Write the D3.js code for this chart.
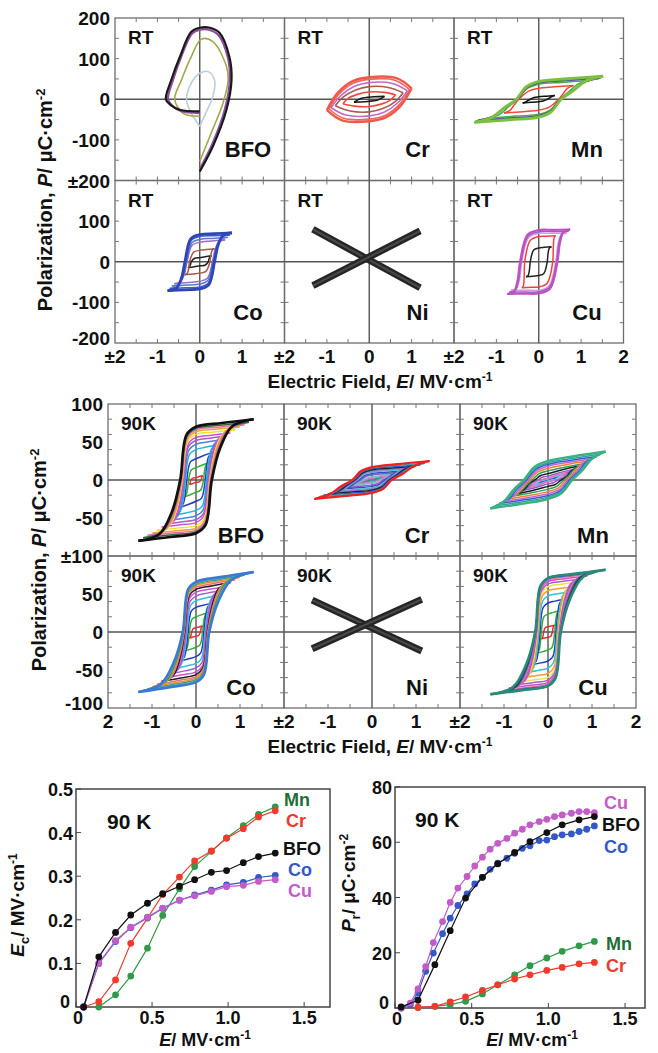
<!DOCTYPE html>
<html><head><meta charset="utf-8">
<script src="https://cdn.jsdelivr.net/npm/d3@7"></script>
<style>
body{margin:0;background:#fff}
svg{display:block}
text{font-family:"Liberation Sans",Arial,Helvetica,sans-serif;font-weight:bold;fill:#111}
</style></head><body>
<svg id="chart" width="658" height="1053"></svg>
<script>
// ================= DATA =================
const panelNames = ["BFO","Cr","Mn","Co","Ni","Cu"];
// x tick labels under each grid (E values, column index)
const xLabelE   = [-2,-1,0,1,-2,-1,0,1,-2,-1,0,1,2];
const xLabelCol = [0,0,0,0,1,1,1,1,2,2,2,2,2];
const topXText  = ["±2","-1","0","1","±2","-1","0","1","±2","-1","0","1","2"];
const midXText  = ["2","-1","0","1","±2","-1","0","1","±2","-1","0","1","2"];
// y tick labels
const topYRow0V = [200,100,0,-100,-200], topYRow0T = ["200","100","0","-100","±200"];
const topYRow1V = [100,0,-100,-200],     topYRow1T = ["100","0","-100","-200"];
const midYRow0V = [100,50,0,-50,-100],   midYRow0T = ["100","50","0","-50","±100"];
const midYRow1V = [50,0,-50,-100],       midYRow1T = ["50","0","-50","-100"];

// ---- RT loops ----
// BFO RT: open traces (E, P)
const rtBFO = [
  [[0,-67],[-0.24,-26],[-0.31,0],[-0.2,40],[0,64],[0.2,68],[0.35,46],[0.31,7],[0.16,-30],[0,-67]],
  [[0,-42],[-0.4,-34],[-0.59,0],[-0.43,48],[-0.2,105],[0.04,148],[0.31,142],[0.63,81],[0.67,48],[0.55,-9],[0.27,-83],[0,-153]],
  [[0,-34],[-0.45,-29],[-0.66,-15],[-0.75,0],[-0.63,48],[-0.44,104],[-0.18,162],[0,171],[0.22,171],[0.44,158],[0.66,104],[0.71,48],[0.59,-26],[0.29,-112],[0,-172]],
  [[0,-30],[-0.47,-26],[-0.7,-13],[-0.8,0],[-0.67,48],[-0.47,104],[-0.2,166],[0,176],[0.24,176],[0.47,163],[0.7,104],[0.75,48],[0.63,-26],[0.31,-116],[0,-178]]
];
// Cr RT: upper branches (right tip -> left tip), lower branch is the point reflection
const rtCr = [
  [[0.36,7],[0.1,6],[-0.2,2],[-0.36,-7]],
  [[0.62,11],[0.35,17],[0,18],[-0.28,12],[-0.5,2],[-0.62,-11]],
  [[0.8,16],[0.45,29],[0,31],[-0.32,23],[-0.62,5],[-0.8,-16]],
  [[0.9,21],[0.55,39],[0,41],[-0.35,32],[-0.68,8],[-0.9,-21]],
  [[0.95,24],[0.6,47],[0,49],[-0.37,40],[-0.72,12],[-0.95,-24]],
  [[1.0,27],[0.64,52],[0,54],[-0.4,44],[-0.75,15],[-1.0,-27]]
];
// loops as [Emax, Pmax, Pr, Ec]
const rtMn = [[0.38,9,6,0.2],[0.82,34,27,0.47],[1.2,46,37,0.5],[1.42,51,40,0.5],[1.46,53,41,0.51],[1.49,55,42,0.52],[1.52,57,44,0.53]];
const rtCo = [[0.28,15,10,0.2],[0.35,32,28,0.24],[0.6,54,48,0.3],[0.66,60,55,0.31],[0.71,66,62,0.33],[0.76,71,67,0.35]];
const rtCu = [[0.3,37,34,0.2],[0.4,64,62,0.33],[0.66,70,70,0.4],[0.7,75,74,0.42],[0.74,79,78,0.44]];
const rtNi = [[[-1.33,80],[1.2,-64]],[[-1.33,-59],[1.2,76]]];

// ---- 90 K loops [Emax, Pmax, Pr, Ec] ----
const k90BFO = [[0.15,6,3,0.12],[0.26,22,16,0.17],[0.36,36,28,0.21],[0.47,46,40,0.24],[0.57,53,47,0.26],[0.68,58,52,0.28],[0.78,62,56,0.29],[0.89,66,60,0.31],[0.99,70,63.5,0.32],[1.10,73,66,0.33],[1.20,76,68,0.345],[1.31,80,70,0.36]];
const k90Cr  = [[0.15,2,0.2,0.012],[0.26,4,0.6,0.062],[0.36,6,2.2,0.146],[0.47,8,4,0.204],[0.57,10,6.4,0.258],[0.68,12,8.4,0.298],[0.78,14,10.5,0.335],[0.89,16,12,0.358],[0.99,18,13.6,0.387],[1.10,20,14.7,0.409],[1.20,22,16,0.436],[1.31,25,17,0.45]];
const k90Mn  = [[0.15,3,0.2,0.01],[0.26,5,0.6,0.03],[0.36,8,1.2,0.08],[0.47,11,2.4,0.15],[0.57,14,5.1,0.23],[0.68,18,8.4,0.3],[0.78,21,12,0.36],[0.89,25,15.3,0.41],[0.99,28,18.1,0.45],[1.10,31,20.5,0.49],[1.20,34,22.5,0.52],[1.31,37.5,25,0.55]];
const k90Co  = [[0.15,8,5.4,0.10],[0.26,25,20,0.15],[0.36,38,32.5,0.18],[0.47,48,41.3,0.205],[0.57,55,47.3,0.226],[0.68,60,52.4,0.245],[0.78,65,56,0.257],[0.89,69,58.7,0.268],[0.99,72,60.8,0.28],[1.10,75,62.7,0.286],[1.20,77,63.9,0.297],[1.31,79,66,0.302]];
const k90Cu  = [[0.15,9,6.9,0.10],[0.26,28,23.7,0.152],[0.36,43,38.2,0.183],[0.47,53,47.6,0.206],[0.57,60,54.6,0.227],[0.68,66,59.6,0.245],[0.78,70,63.3,0.255],[0.89,74,66.3,0.265],[0.99,77,68.3,0.276],[1.10,79,69.9,0.279],[1.20,81,71.1,0.288],[1.31,82,71,0.292]];
const k90Ni  = [[[-1.36,42],[1.13,-25]],[[-1.36,-22],[1.13,43]]];

// ---- Ec vs E (90 K) ----
const ecE    = [0.05,0.15,0.26,0.36,0.47,0.57,0.68,0.78,0.89,0.99,1.10,1.20,1.31];
const ecBFO  = [0,0.115,0.171,0.211,0.238,0.26,0.277,0.292,0.309,0.313,0.331,0.345,0.353];
const ecCo   = [0,0.1,0.15,0.182,0.205,0.226,0.245,0.257,0.268,0.28,0.286,0.297,0.302];
const ecCu   = [0,0.1,0.152,0.183,0.206,0.227,0.245,0.255,0.265,0.276,0.279,0.288,0.292];
const ecCr   = [0,0.012,0.062,0.146,0.204,0.258,0.298,0.335,0.358,0.387,0.409,0.436,0.45];
const ecMn   = [null,0,0.028,0.071,0.135,0.21,0.271,0.322,0.357,0.388,0.416,0.442,0.459];

// ---- Pr vs E (90 K) ----
const prE1   = [0.04,0.15,0.26,0.36,0.46,0.57,0.67,0.78,0.88,0.99,1.09,1.20,1.30];
const prBFO  = [0.4,2.8,15.7,28,39.8,47.3,52.2,56.3,60.2,63.5,66.3,68.1,69.3];
const prMn   = [null,0.2,0.6,1.2,2.4,5.1,8.4,12,15.3,18.1,20.5,22.5,24.1];
const prCr   = [null,0.2,0.6,2.2,4,6.4,8.4,10.5,12,13.6,14.7,16,16.5];
const prE2   = [0.04,0.10,0.15,0.20,0.25,0.31,0.36,0.41,0.47,0.52,0.57,0.62,0.67,0.73,0.78,0.83,0.88,0.94,0.99,1.04,1.09,1.15,1.20,1.25,1.30];
const prCu   = [0,1.8,6.9,15,23.7,31.3,38.2,43.4,47.6,51.4,54.6,57.5,59.6,61.4,63.3,64.7,66.3,67.5,68.3,69.3,69.9,70.5,71.1,71.1,70.7];
const prCo   = [0,1.2,5.4,13.3,19.9,26.9,32.5,37.1,41.3,44.9,47.3,50.2,52.4,54.2,56,57.8,58.7,60.6,60.8,62,62.7,63,63.9,64.7,65.9];
const ecTicks = [0,0.1,0.2,0.3,0.4,0.5];
const prTicks = [0,20,40,60,80];
const eTicks  = [0,0.5,1.0,1.5];

// ================= STYLES =================
const C = {BFO:"#111111", Cr:"#ee3b2e", Mn:"#2f9a4a", Co:"#3558c8", Cu:"#c25cc9"};
const colRtBFO = ["#b9cfdc","#a3a84c","#8e4f9e","#1a1a1a"];
const colRtCr  = ["#1a1a1a","#ee4a3c","#a45e52","#c26ac8","#f0685a","#f0584a"];
const colRtMn  = ["#111","#f04a3a","#4aaa4a","#8a60b0","#3d5d8a","#2f8040","#7cc040"];
const colRtCo  = ["#222","#a85a48","#9a70c0","#5a78c8","#3c5cc8","#2e46b8"];
const colRtCu  = ["#222","#f04040","#e090e0","#9060c8","#c050c0"];
const colBFO90 = ["#e03030","#30b030","#2040c0","#20b8e0","#4a86e0","#a060d0","#d050d0","#f0e030","#f0a040","#e070a0","#2f6a3a","#111111"];
const colCo90  = ["#e03030","#30b030","#2040c0","#30c0e0","#a060d0","#d050d0","#202020","#e07090","#f09020","#30a060","#60a8d0","#3a7ad0"];
const colCu90  = ["#e03030","#30b030","#2040c0","#30c0e0","#f0a030","#f0e040","#a060d0","#d050d0","#e07090","#3060c0","#303030","#2a8a7a"];
const colCr90  = ["#202020","#30a0a0","#e070b0","#70c0e0","#8060c0","#3050c0","#60b0e0","#9070c0","#202020","#3050c0","#40a0a0","#f02020"];
const colMn90  = ["#7050a0","#3050c0","#70c0e0","#e070c0","#9060c0","#202020","#30a060","#f08030","#d060d0","#3060d0","#30a0a0","#3cb080"];
const shapeSq = {k1:0.6, s:0.85, f1:0.2, f2:0.6, g1:0.5, g2:0.95};
const shapeSl = {k1:0.55, s:0.7, f1:0.3, f2:0.5, g1:0.6, g2:0.9};

const TOP = {x0:115, y0:18, w:169.5, h:162.5, pmax:200};
const MID = {x0:108, y0:404, w:176, h:152, pmax:100};

// ================= DRAW =================
const svg = d3.select("#chart");
const line = d3.line().curve(d3.curveCatmullRom.alpha(0.5));

function keyPoints(l, s){
  const [e,p,r,c] = l;
  return [[e,p],[0.45*e, r+0.5*(p-r)],[0,r],[-s.k1*c, s.s*r],[-c,0],
          [-(c+(e-c)*s.f1), -s.f2*r],[-(c+(e-c)*s.g1), -(r+(p-r)*0.5)*s.g2],[-e,-p]];
}
const reflect = pts => pts.map(([x,y]) => [-x,-y]);

function panel(grid, col, row){
  const x0 = grid.x0 + col*grid.w, y0 = grid.y0 + row*grid.h;
  const xs = d3.scaleLinear().domain([-2,2]).range([x0, x0+grid.w]);
  const ys = d3.scaleLinear().domain([-grid.pmax, grid.pmax]).range([y0+grid.h, y0]);
  const g = svg.append("g");
  g.append("rect").attr("x",x0).attr("y",y0).attr("width",grid.w).attr("height",grid.h)
    .attr("fill","none").attr("stroke","#6e6e6e").attr("stroke-width",1.3);
  g.append("line").attr("x1",x0).attr("x2",x0+grid.w).attr("y1",ys(0)).attr("y2",ys(0))
    .attr("stroke","#555").attr("stroke-width",1.4);
  g.append("line").attr("x1",xs(0)).attr("x2",xs(0)).attr("y1",y0).attr("y2",y0+grid.h)
    .attr("stroke","#555").attr("stroke-width",1.4);
  const tl = 4;
  xs.ticks(8).filter(v => Math.abs(v) < 2 && v !== 0).forEach(v => {
    g.append("line").attr("x1",xs(v)).attr("x2",xs(v)).attr("y1",y0).attr("y2",y0+tl).attr("stroke","#777");
    g.append("line").attr("x1",xs(v)).attr("x2",xs(v)).attr("y1",y0+grid.h).attr("y2",y0+grid.h-tl).attr("stroke","#777");
  });
  ys.ticks(8).filter(v => Math.abs(v) < grid.pmax && v !== 0).forEach(v => {
    g.append("line").attr("x1",x0).attr("x2",x0+tl).attr("y1",ys(v)).attr("y2",ys(v)).attr("stroke","#777");
    g.append("line").attr("x1",x0+grid.w).attr("x2",x0+grid.w-tl).attr("y1",ys(v)).attr("y2",ys(v)).attr("stroke","#777");
  });
  return {g, xs, ys, x0, y0};
}
function toPx(P, pts){ return pts.map(([e,p]) => [P.xs(e), P.ys(p)]); }
function drawLoops(P, loops, colors, shape, outerW){
  loops.forEach((l,i) => {
    const up = keyPoints(l, shape);
    const w = i === loops.length-1 ? outerW : 1.5;
    [up, reflect(up)].forEach(br => {
      P.g.append("path").attr("d", line(toPx(P, br))).attr("fill","none")
        .attr("stroke", colors[i]).attr("stroke-width", w).attr("stroke-linejoin","round");
    });
  });
}
function drawBranches(P, ups, colors, w){
  ups.forEach((up,i) => {
    [up, reflect(up)].forEach(br => {
      P.g.append("path").attr("d", line(toPx(P, br))).attr("fill","none")
        .attr("stroke", colors[i]).attr("stroke-width", i===ups.length-1 ? 2.4 : w);
    });
  });
}
function drawNi(P, bars){
  bars.forEach(b => {
    P.g.append("path").attr("d", d3.line()(toPx(P, b))).attr("stroke","#262626")
      .attr("stroke-width",7).attr("fill","none");
    P.g.append("path").attr("d", d3.line()(toPx(P, b))).attr("stroke","#4a4a4a")
      .attr("stroke-width",2).attr("fill","none");
  });
}
function labels(P, tag, name){
  P.g.append("text").attr("x",P.x0+13).attr("y",P.y0+26).attr("font-size",19).text(tag);
  P.g.append("text").attr("x",P.x0+133).attr("y",P.y0+139).attr("font-size",22)
    .attr("text-anchor","middle").text(name);
}

// ---- RT grid ----
const rt = [];
for (let i=0;i<6;i++) rt.push(panel(TOP, i%3, Math.floor(i/3)));
rtBFO.forEach((tr,i) => rt[0].g.append("path").attr("d", line(toPx(rt[0], tr))).attr("fill","none")
  .attr("stroke", colRtBFO[i]).attr("stroke-width", i>=2 ? 2.2 : 1.6));
drawBranches(rt[1], rtCr, colRtCr, 1.6);
drawLoops(rt[2], rtMn, colRtMn, shapeSl, 2.8);
drawLoops(rt[3], rtCo, colRtCo, shapeSq, 2.8);
drawNi(rt[4], rtNi);
drawLoops(rt[5], rtCu, colRtCu, shapeSq, 2.2);
rt.forEach((P,i) => labels(P, "RT", panelNames[i]));

// ---- 90 K grid ----
const k = [];
for (let i=0;i<6;i++) k.push(panel(MID, i%3, Math.floor(i/3)));
drawLoops(k[0], k90BFO, colBFO90, shapeSq, 2.6);
drawLoops(k[1], k90Cr,  colCr90,  shapeSl, 2.2);
drawLoops(k[2], k90Mn,  colMn90,  shapeSl, 2.4);
drawLoops(k[3], k90Co,  colCo90,  shapeSq, 2.6);
drawNi(k[4], k90Ni);
drawLoops(k[5], k90Cu,  colCu90,  shapeSq, 2.6);
k.forEach((P,i) => labels(P, "90K", panelNames[i]));

// ---- grid tick labels & titles ----
function gridLabels(grid, xText, rows){
  xLabelE.forEach((e,i) => {
    const x = grid.x0 + xLabelCol[i]*grid.w + (e+2)/4*grid.w;
    svg.append("text").attr("x",x).attr("y",grid.y0+2*grid.h+20).attr("font-size",19)
      .attr("text-anchor","middle").text(xText[i]);
  });
  rows.forEach(([vals, txt], r) => {
    const ys = d3.scaleLinear().domain([-grid.pmax,grid.pmax]).range([grid.y0+(r+1)*grid.h, grid.y0+r*grid.h]);
    vals.forEach((v,i) => {
      const last = (r === rows.length-1 && i === vals.length-1);
      svg.append("text").attr("x",grid.x0-5).attr("y",ys(v)+(last?2:7))
        .attr("font-size",19).attr("text-anchor","end").text(txt[i]);
    });
  });
  const t = svg.append("text").attr("x",380).attr("y",grid.y0+2*grid.h+45).attr("font-size",19).attr("text-anchor","middle");
  t.append("tspan").text("Electric Field, ");
  t.append("tspan").attr("font-style","italic").text("E");
  t.append("tspan").text("/ MV·cm");
  t.append("tspan").attr("font-size",12).attr("dy",-7).text("-1");
}
gridLabels(TOP, topXText, [[topYRow0V,topYRow0T],[topYRow1V,topYRow1T]]);
gridLabels(MID, midXText, [[midYRow0V,midYRow0T],[midYRow1V,midYRow1T]]);
function polTitle(x, y){
  const t = svg.append("text").attr("transform",`translate(${x},${y}) rotate(-90)`).attr("font-size",20).attr("text-anchor","middle");
  t.append("tspan").text("Polarization, ");
  t.append("tspan").attr("font-style","italic").text("P");
  t.append("tspan").text("/ μC·cm");
  t.append("tspan").attr("font-size",13).attr("dy",-7).text("-2");
}
polTitle(52, 200);
polTitle(46, 560);

// ---- bottom plots ----
function plot(cfg){
  const xs = d3.scaleLinear().domain(cfg.xd).range(cfg.xr);
  const ys = d3.scaleLinear().domain(cfg.yd).range(cfg.yr);
  const g = svg.append("g");
  g.append("rect").attr("x",cfg.xr[0]).attr("y",cfg.yr[1]).attr("width",cfg.xr[1]-cfg.xr[0])
    .attr("height",cfg.yr[0]-cfg.yr[1]).attr("fill","none").attr("stroke","#444").attr("stroke-width",1.5);
  eTicks.forEach(v => {
    g.append("line").attr("x1",xs(v)).attr("x2",xs(v)).attr("y1",cfg.yr[0]).attr("y2",cfg.yr[0]-5).attr("stroke","#444");
    g.append("text").attr("x",xs(v)+(v===0?2:0)).attr("y",cfg.yr[0]+17).attr("font-size",18).attr("text-anchor","middle")
      .text(v===0 ? "0" : d3.format(".1f")(v));
  });
  cfg.yt.forEach(v => {
    g.append("line").attr("x1",cfg.xr[0]).attr("x2",cfg.xr[0]+5).attr("y1",ys(v)).attr("y2",ys(v)).attr("stroke","#444");
    g.append("text").attr("x",cfg.xr[0]-(v===0?6:3)).attr("y",ys(v)+(v===0?1:7)).attr("font-size",18).attr("text-anchor","end")
      .text(cfg.yf(v));
  });
  cfg.series.forEach(s => {
    const pts = s.x.map((x,i) => [x, s.y[i]]).filter(d => d[1] !== null);
    g.append("path").attr("d", d3.line().x(d=>xs(d[0])).y(d=>ys(d[1]))(pts))
      .attr("fill","none").attr("stroke",s.c).attr("stroke-width",1.2);
    pts.forEach(d => g.append("circle").attr("cx",xs(d[0])).attr("cy",ys(d[1])).attr("r",3.4).attr("fill",s.c));
  });
  cfg.labels.forEach(l => g.append("text").attr("x",l[1]).attr("y",l[2]).attr("font-size",18)
    .style("fill", l[3]).text(l[0]));
  g.append("text").attr("x",cfg.kx).attr("y",cfg.yr[1]+40).attr("font-size",21).text("90 K");
  const xt = g.append("text").attr("x",cfg.tx).attr("y",1046).attr("font-size",18).attr("text-anchor","middle");
  xt.append("tspan").attr("font-style","italic").text("E");
  xt.append("tspan").text("/ MV·cm");
  xt.append("tspan").attr("font-size",12).attr("dy",-7).text("-1");
  return g;
}
plot({xd:[0,1.67], xr:[76,330], yd:[0,0.5], yr:[1007,789], yt:ecTicks, yf:v=>v===0?"0":d3.format(".1f")(v), kx:107, tx:205,
  series:[{x:ecE,y:ecMn,c:C.Mn},{x:ecE,y:ecCr,c:C.Cr},{x:ecE,y:ecCo,c:C.Co},{x:ecE,y:ecCu,c:C.Cu},{x:ecE,y:ecBFO,c:C.BFO}],
  labels:[["Mn",284,806,"#1f6e35"],["Cr",286,827,C.Cr],["BFO",283,855,"#111"],["Co",288,876,C.Co],["Cu",288,897,C.Cu]]});
plot({xd:[0,1.63], xr:[395,645], yd:[0,80], yr:[1008,787], yt:prTicks, yf:v=>String(v), kx:415, tx:532,
  series:[{x:prE1,y:prMn,c:C.Mn},{x:prE1,y:prCr,c:C.Cr},{x:prE2,y:prCo,c:C.Co},{x:prE2,y:prCu,c:C.Cu},{x:prE1,y:prBFO,c:C.BFO}],
  labels:[["Cu",604,809,C.Cu],["BFO",602,831,"#111"],["Co",604,853,C.Co],["Mn",606,950,"#1f6e35"],["Cr",606,972,C.Cr]]});
// rotated y titles
(function(){
  const t = svg.append("text").attr("transform","translate(24,905) rotate(-90)").attr("font-size",19).attr("text-anchor","middle");
  t.append("tspan").attr("font-style","italic").text("E");
  t.append("tspan").attr("font-size",13).attr("dy",5).text("c");
  t.append("tspan").attr("dy",-5).text("/ MV·cm");
  t.append("tspan").attr("font-size",12).attr("dy",-7).text("-1");
  const u = svg.append("text").attr("transform","translate(355,883) rotate(-90)").attr("font-size",19).attr("text-anchor","middle");
  u.append("tspan").attr("font-style","italic").text("P");
  u.append("tspan").attr("font-size",13).attr("dy",5).text("r");
  u.append("tspan").attr("dy",-5).text("/ μC·cm");
  u.append("tspan").attr("font-size",12).attr("dy",-7).text("-2");
})();
</script></body></html>
